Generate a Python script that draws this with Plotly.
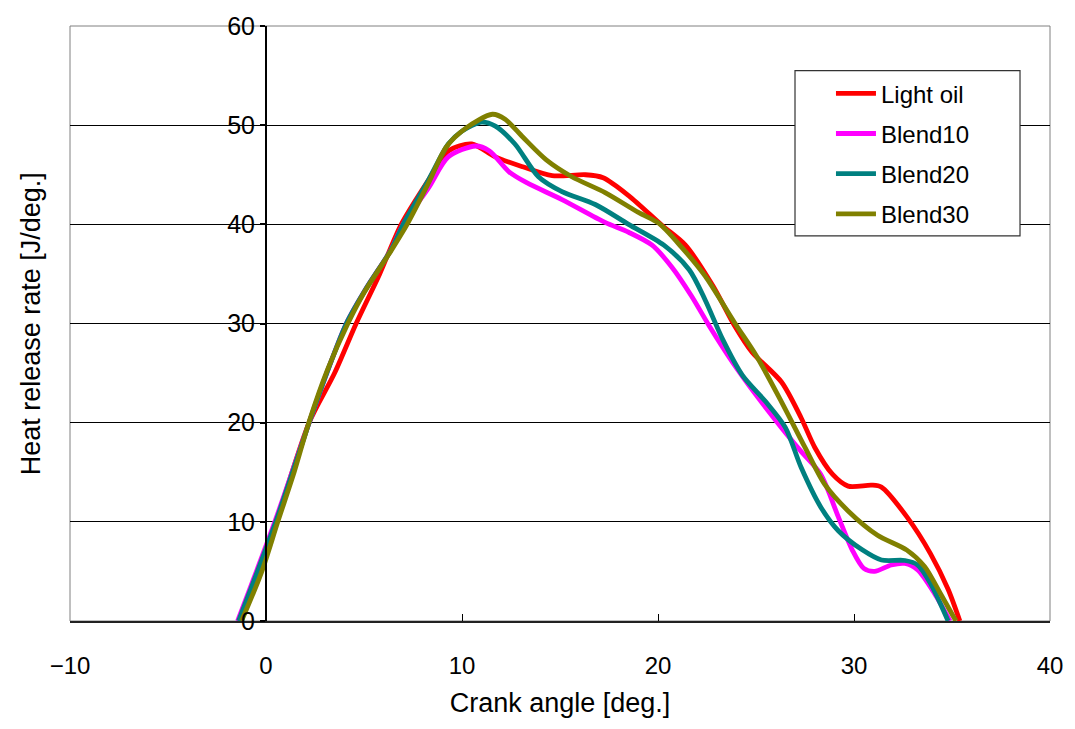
import plotly.graph_objects as go

# Crank angle [deg.] and heat release rate [J/deg.]
light_oil_x = [-1.4, 0.5, 2.2, 3.5, 4.6, 5.8, 6.9, 8.3, 9.3, 10.5, 11.7, 13.1, 14.6, 16.3, 17.2, 18.5,
               20.2, 21.4, 22.8, 23.9, 24.8, 26.3, 27.3, 28.0, 28.9, 29.7, 30.9, 31.4, 32.7, 33.9, 34.8, 35.4]
light_oil_y = [0, 10, 20, 25, 30, 35, 40, 44.5, 47.4, 48.1, 46.8, 45.8, 44.9, 45.0, 44.7, 42.9,
               39.9, 37.9, 33.8, 29.8, 27.1, 24.1, 20.5, 17.5, 14.8, 13.6, 13.7, 13.5, 10.5, 6.8, 3.2, 0]

blend10_x = [-1.45, 0.45, 2.2, 3.1, 4.1, 5.1, 6.4, 7.0, 8.3, 9.3, 10.7, 11.4, 12.4, 13.3, 15.1, 17.3,
             18.5, 19.7, 20.7, 21.7, 22.6, 23.8, 25.0, 26.3, 27.3, 28.3, 29.2, 29.9, 30.5, 31.05, 31.9,
             32.6, 33.25, 34.1, 34.9]
blend10_y = [0, 10, 20, 25, 30, 33.5, 37.5, 40, 43.7, 46.8, 47.9, 47.4, 45.3, 44.2, 42.5, 40.2,
             39.2, 37.9, 35.7, 32.8, 29.8, 26.1, 22.8, 19.5, 17.1, 14.8, 10.5, 7.2, 5.3, 5.0, 5.65,
             5.8, 5.15, 2.8, 0]

blend20_x = [-1.4, 0.5, 2.2, 3.1, 4.1, 5.1, 6.4, 7.0, 8.3, 9.3, 10.0, 11.0, 11.7, 12.7, 13.9, 15.1,
             16.8, 18.5, 20.3, 21.6, 22.4, 23.3, 24.3, 25.5, 26.5, 27.3, 28.3, 29.2, 30.4, 31.4, 32.6,
             33.25, 33.9, 34.8]
blend20_y = [0, 10, 20, 25, 30, 33.5, 37.5, 40, 44.5, 48.1, 49.4, 50.3, 49.9, 48.1, 44.8, 43.3,
             42.0, 40.0, 37.9, 35.4, 32.4, 28.4, 24.8, 22.1, 19.5, 15.5, 11.5, 9.1, 7.2, 6.15, 6.1,
             5.65, 3.8, 0]

blend30_x = [-1.25, -0.25, 0.6, 1.45, 2.2, 3.15, 4.2, 5.0, 6.4, 7.2, 8.3, 9.2, 10.2, 11.55, 12.2, 13.1,
             14.3, 15.6, 17.3, 19.0, 20.05, 21.2, 22.4, 23.9, 25.0, 26.3, 27.5, 28.5, 29.7, 31.2, 32.7,
             33.6, 34.4, 35.2]
blend30_y = [0, 4.8, 10, 15.1, 20.1, 25.4, 30.1, 33.1, 37.4, 40, 44.2, 47.8, 49.7, 51.1, 50.6, 48.8,
             46.5, 44.8, 43.2, 41.2, 40.1, 37.7, 34.8, 30.1, 26.8, 22.1, 17.5, 13.8, 11.1, 8.65, 7.15,
             5.5, 2.8, 0]

series_names = ["Light oil", "Blend10", "Blend20", "Blend30"]
series_colors = ["#FF0000", "#FF00FF", "#008080", "#808000"]
series_x = [light_oil_x, blend10_x, blend20_x, blend30_x]
series_y = [light_oil_y, blend10_y, blend20_y, blend30_y]

x_ticks = [-10, 0, 10, 20, 30, 40]
y_ticks = [0, 10, 20, 30, 40, 50, 60]

FONT = "Liberation Sans, Arial, sans-serif"

fig = go.Figure()
for name, color, xs, ys in zip(series_names, series_colors, series_x, series_y):
    fig.add_trace(go.Scatter(
        x=xs, y=ys, name=name, mode="lines", legendgroup=name,
        line=dict(color=color, width=4.8, shape="spline", smoothing=0.8),
    ))

fig.update_layout(
    width=1075, height=729,
    margin=dict(l=70, r=25, t=20, b=108),
    paper_bgcolor="white", plot_bgcolor="white",
    font=dict(family=FONT, size=24, color="black"),
    showlegend=True,
    legend=dict(
        x=0.7765, y=0.924, xanchor="left", yanchor="top",
        bgcolor="rgba(0,0,0,0)", borderwidth=0,
        font=dict(family=FONT, size=24, color="black"),
        traceorder="grouped", tracegroupgap=6, itemwidth=40,
    ),
    xaxis=dict(
        range=[-10, 40], tickvals=x_ticks, ticks="inside", ticklen=7, tickcolor="black",
        showgrid=False, zeroline=False, showline=True, linecolor="#222222", linewidth=1.5,
        tickfont=dict(size=24), ticklabelstandoff=22,
        title=dict(text="Crank angle [deg.]", font=dict(size=27), standoff=16),
    ),
    yaxis=dict(
        range=[0, 60], tickvals=y_ticks, anchor="free", position=0.2,
        ticks="outside", ticklen=5, tickcolor="black", tickwidth=1.5,
        showgrid=True, gridcolor="black", gridwidth=1,
        zeroline=False, showline=True, linecolor="black", linewidth=2,
        tickfont=dict(size=25),
    ),
    shapes=[
        dict(type="rect", xref="paper", yref="paper", x0=0, y0=0, x1=1, y1=1,
             line=dict(color="#808080", width=1), layer="below"),
        dict(type="rect", xref="paper", yref="paper", x0=0.7398, y0=0.6473, x1=0.9694, y1=0.9251,
             line=dict(color="#333333", width=1.2), fillcolor="white", layer="above"),
    ],
    annotations=[dict(text="Heat release rate [J/deg.]", xref="paper", yref="paper",
                      x=-0.04, y=0.5, xanchor="center", yanchor="middle", textangle=-90,
                      showarrow=False, font=dict(size=27, family=FONT))],
)

fig.write_html("out.html")
